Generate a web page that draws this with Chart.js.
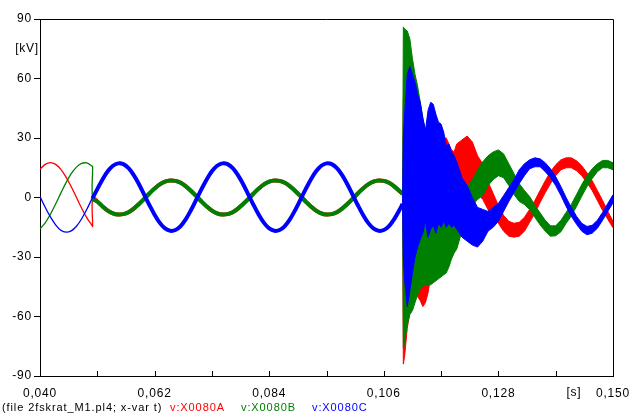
<!DOCTYPE html>
<html lang="en">
<head>
<meta charset="UTF-8">
<title>v:X0080A / v:X0080B / v:X0080C</title>
<script src="https://cdn.jsdelivr.net/npm/chart.js@4/dist/chart.umd.min.js"></script>
<style>
  body { margin: 0; background: #fff; }
  #wrap { width: 644px; height: 416px; }
</style>
</head>
<body>
<div id="wrap"><canvas id="chart"></canvas></div>
<script>
// time axis in ms, voltages in kV
const xTicks = [40, 51, 62, 73, 84, 95, 106, 117, 128, 139, 150];
const yTicks = [-90, -60, -30, 0, 30, 60, 90];

// before the fault: plain traces
const tMain = [40, 41, 42, 43, 44, 45, 46, 47, 48, 49, 50, 50.1, 50.1,
  51, 52, 53, 54, 55, 56, 57, 58, 59, 60, 61, 62, 63, 64, 65, 66, 67, 68, 69, 70,
  71, 72, 73, 74, 75, 76, 77, 78, 79, 80, 81, 82, 83, 84, 85, 86, 87, 88, 89, 90,
  91, 92, 93, 94, 95, 96, 97, 98, 99, 100, 101, 102, 103, 104, 105, 106, 107, 108, 109, 109.6];

const aMain = [14.2, 16.7, 17.6, 16.7, 14.2, 10.3, 5.4, 0, -5.4, -10.3, -14.2, -14.6, -0.5,
  -2.0, -4.5, -6.6, -8.0, -8.6, -8.4, -7.4, -5.6, -3.3, -0.7, 2.0, 4.5, 6.6, 8.0, 8.6, 8.4, 7.4, 5.6, 3.3, 0.7,
  -2.0, -4.5, -6.6, -8.0, -8.6, -8.4, -7.4, -5.6, -3.3, -0.7, 2.0, 4.5, 6.6, 8.0, 8.6, 8.4, 7.4, 5.6, 3.3, 0.7,
  -2.0, -4.5, -6.6, -8.0, -8.6, -8.4, -7.4, -5.6, -3.3, -0.7, 2.0, 4.5, 6.6, 8.0, 8.6, 8.4, 7.4, 5.6, 3.3, 1.8];

const bMain = [-15.8, -12.8, -8.4, -3.3, 2.2, 7.5, 12.0, 15.3, 17.2, 17.4, 15.8, 15.6, -0.5,
  -2.0, -4.5, -6.6, -8.0, -8.6, -8.4, -7.4, -5.6, -3.3, -0.7, 2.0, 4.5, 6.6, 8.0, 8.6, 8.4, 7.4, 5.6, 3.3, 0.7,
  -2.0, -4.5, -6.6, -8.0, -8.6, -8.4, -7.4, -5.6, -3.3, -0.7, 2.0, 4.5, 6.6, 8.0, 8.6, 8.4, 7.4, 5.6, 3.3, 0.7,
  -2.0, -4.5, -6.6, -8.0, -8.6, -8.4, -7.4, -5.6, -3.3, -0.7, 2.0, 4.5, 6.6, 8.0, 8.6, 8.4, 7.4, 5.6, 3.3, 1.8];

const cMain = [0.5, -4.9, -9.8, -13.8, -16.5, -17.5, -16.8, -14.5, -10.7, -5.9, -0.5, -0.3, -0.3,
  4.2, 9.1, 13.2, 16.0, 17.2, 16.8, 14.8, 11.3, 6.7, 1.5, -3.8, -8.7, -12.8, -15.6, -16.8, -16.4, -14.4, -10.9, -6.3, -1.1,
  4.2, 9.1, 13.2, 16.0, 17.2, 16.8, 14.8, 11.3, 6.7, 1.5, -3.8, -8.7, -12.8, -15.6, -16.8, -16.4, -14.4, -10.9, -6.3, -1.1,
  4.2, 9.1, 13.2, 16.0, 17.2, 16.8, 14.8, 11.3, 6.7, 1.5, -3.8, -8.7, -12.8, -15.6, -16.8, -16.4, -14.4, -10.9, -6.3, -3.3];

// after the fault: upper / lower edge of each (noisy) trace
const tBand = [109.6, 109.75, 110, 110.5, 111, 111.5, 112, 112.5, 113, 113.5, 114, 114.5, 115, 115.5,
  116, 116.5, 117, 117.5, 118, 118.5, 119, 119.5, 120, 121, 122, 123, 124, 125, 126, 127, 128, 129, 130,
  131, 132, 133, 134, 135, 136, 137, 138, 139, 140, 141, 142, 143, 144, 145, 146, 147, 148, 149, 150];

const aHi = [1.8, 50, 50, 45, 42, 40, 38, 35, 32, 30, 28, 28, 28, 28, 28, 28, 29, 30, 30, 27, 24, 23, 27,
  29, 31, 28, 21, 17, 8, 2, -4, -9, -12, -13, -12.5, -10, -6, -1.5, 3.5, 8.5, 13, 16.5, 19, 20, 20, 18.5,
  16, 12.5, 8.5, 3.5, -1.5, -7, -12];
const aLo = [1.8, -84, -80, -66, -58, -56, -47, -50, -52, -55, -53, -48, -40, -32, -28, -24, -20, -16, -12,
  -8, -4, 0, 2, 5, 5, 4, 2, -1, -6, -10, -13, -17, -19.5, -20, -19.5, -17, -12.5, -8, -2.5, 2.5, 7, 11, 14,
  15, 15, 13.5, 11, 7.5, 3.5, -1.5, -6.5, -11, -15.3];

const bHi = [1.8, 86, 85, 84, 80, 70, 62, 56, 48, 40, 33, 30, 28, 26, 24, 22, 20, 18, 16, 14, 12, 10, 8,
  5, 5, 9, 14, 18, 21, 23, 24, 22, 17, 12, 7, 3.5, 0.5, -4, -7.7, -11.5, -14.3, -14.3, -11.5, -7.5, -3.5,
  1.5, 6.5, 11, 14.5, 17, 18.7, 18.7, 17.5];
const bLo = [1.8, -76, -73, -64, -59, -57, -53, -49, -46, -45, -44, -44, -44, -43, -42, -41, -40, -39, -38,
  -35, -31, -28, -26, -17, -9, -4, -1, 1, 6, 9, 11, 10, 6, 1.5, -2, -3.5, -6.2, -10, -13.8, -17, -19.5,
  -19.3, -17.3, -13, -9.3, -4.5, 0.6, 5.5, 9.5, 13, 15, 15, 14];

const cHi = [-3.3, 30, 42, 62, 66, 62, 58, 52, 48, 40, 34, 44, 48, 47, 42, 38, 37, 33, 26, 27, 23, 21, 18,
  10, 6, 0, -5, -6, -7, -5, -3, 1, 5, 9, 14, 17, 19, 20, 19.5, 17.5, 14.5, 10.5, 5.5, 0, -5, -9.5, -13,
  -14.6, -14, -11.5, -7.5, -3, 1.4];
const cLo = [-3.3, -30, -42, -55, -47, -38, -30, -25, -21, -18, -12, -20, -16, -14, -18, -13, -15, -12, -15,
  -13, -15, -14, -16, -20, -22, -24, -25, -22, -17, -15, -12, -7, -2, 2.5, 7, 11, 14.5, 15.5, 15.5, 13, 10,
  6, 1, -4.5, -9.5, -13.5, -17, -18.8, -18, -15.5, -11.5, -7, -2.7];

const RED = '#ff0000', GREEN = '#008000', BLUE = '#0000ff';
const FONT = '"Liberation Sans", Arial, sans-serif';

function pts(ts, vs) {
  return ts.map((t, i) => ({ x: t, y: vs[i] }));
}

// thin until the switching at 50.1 ms, then thicker (ripple)
const preThin = ctx => ctx.p1.parsed.x <= 50.1 ? 1.3 : 4;

function mainLine(vs, color) {
  return {
    data: pts(tMain, vs), borderColor: color, borderWidth: 4, tension: 0.35,
    borderJoinStyle: 'round', fill: false, segment: { borderWidth: preThin }
  };
}
function bandHi(vs, color) {
  return { data: pts(tBand, vs), borderColor: color, backgroundColor: color, borderWidth: 1, tension: 0, fill: '+1' };
}
function bandLo(vs, color) {
  return { data: pts(tBand, vs), borderColor: color, borderWidth: 1, tension: 0, fill: false };
}

// the plotter's text is a little spread out
const spacing = {
  id: 'spacing',
  beforeLayout(chart) { chart.ctx.letterSpacing = '0.8px'; },
  beforeDraw(chart) { chart.ctx.letterSpacing = '0.8px'; }
};

const frame = {
  id: 'frame',
  afterDraw(chart) {
    const { ctx, chartArea: a, scales: { x, y } } = chart;
    ctx.save();
    ctx.strokeStyle = '#000';
    ctx.lineWidth = 1;
    ctx.beginPath();
    ctx.moveTo(a.left, a.top + 0.5);
    ctx.lineTo(a.right + 0.5, a.top + 0.5);
    ctx.lineTo(a.right + 0.5, a.bottom);
    xTicks.forEach(v => {
      const px = Math.round(x.getPixelForValue(v)) + 0.5;
      ctx.moveTo(px, a.bottom);
      ctx.lineTo(px, a.bottom - 5);
    });
    ctx.stroke();

    ctx.fillStyle = '#000';
    ctx.font = '12px ' + FONT;
    ctx.letterSpacing = '0.8px';
    ctx.textBaseline = 'middle';
    ctx.textAlign = 'right';
    ctx.fillText('[kV]', 39, y.getPixelForValue(75));
    ctx.textAlign = 'center';
    ctx.fillText('[s]', x.getPixelForValue(142.5), a.bottom + 17);

    ctx.font = '11px ' + FONT;
    ctx.letterSpacing = '0.9px';
    ctx.textAlign = 'left';
    ctx.fillText('(file 2fskrat_M1.pl4; x-var t)', 2, 408);
    ctx.fillStyle = RED;
    ctx.fillText('v:X0080A', 170, 408);
    ctx.fillStyle = GREEN;
    ctx.fillText('v:X0080B', 241, 408);
    ctx.fillStyle = BLUE;
    ctx.fillText('v:X0080C', 312, 408);
    ctx.restore();
  }
};

Chart.defaults.font.family = FONT;
Chart.defaults.font.size = 12;
Chart.defaults.color = '#000';

new Chart(document.getElementById('chart'), {
  type: 'line',
  data: {
    datasets: [
      bandHi(cHi, BLUE), bandLo(cLo, BLUE), mainLine(cMain, BLUE),
      bandHi(bHi, GREEN), bandLo(bLo, GREEN), mainLine(bMain, GREEN),
      bandHi(aHi, RED), bandLo(aLo, RED), mainLine(aMain, RED)
    ]
  },
  options: {
    responsive: true,
    maintainAspectRatio: false,
    animation: false,
    layout: { padding: { left: 0, right: 31, top: 19, bottom: 0 } },
    elements: { point: { radius: 0 } },
    plugins: { legend: { display: false }, tooltip: { enabled: false } },
    scales: {
      x: {
        type: 'linear', min: 40, max: 150,
        afterBuildTicks: s => { s.ticks = xTicks.map(v => ({ value: v })); },
        afterFit: s => { s.height = 40; },
        grid: { drawOnChartArea: false, drawTicks: false },
        border: { color: '#000', width: 1 },
        ticks: {
          autoSkip: false, maxRotation: 0, minRotation: 0, padding: 10,
          callback: (v, i) => i % 2 === 0 ? (v / 1000).toFixed(3).replace('.', ',') : ''
        }
      },
      y: {
        min: -90, max: 90,
        afterBuildTicks: s => { s.ticks = yTicks.map(v => ({ value: v })); },
        afterFit: s => { s.width = 40; },
        grid: { drawOnChartArea: false, drawTicks: true, tickLength: 6, color: '#000' },
        border: { color: '#000', width: 1 },
        ticks: { padding: 2, callback: v => String(v) }
      }
    }
  },
  plugins: [spacing, frame]
});
</script>
</body>
</html>
